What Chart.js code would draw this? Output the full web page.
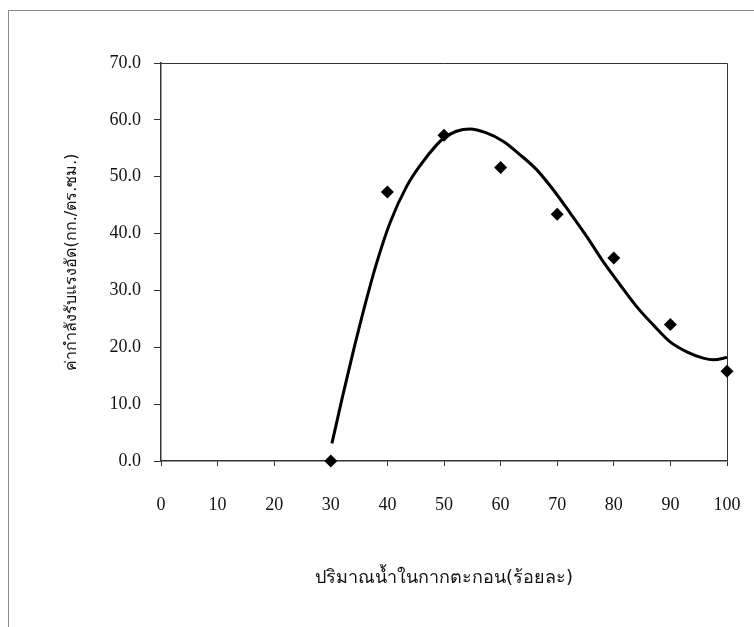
<!DOCTYPE html>
<html>
<head>
<meta charset="utf-8">
<script src="https://cdn.jsdelivr.net/npm/chart.js@4"></script>
<style>
  body { margin: 0; background: #fff; }
  #wrap { position: relative; width: 754px; height: 627px; }
  #frame { position: absolute; left: 8px; top: 10px; right: 0; bottom: 0; border-top: 1px solid #8a8a8a; border-left: 1px solid #8a8a8a; pointer-events: none; }
</style>
</head>
<body>
<div id="wrap">
  <canvas id="chartGrafico" width="754" height="627"></canvas>
  <div id="frame"></div>
</div>
<script>
// pontos medidos (diamantes)
const pontosX = [30, 40, 50, 60, 70, 80, 90, 100];
const pontosY = [0.0, 47.3, 57.3, 51.6, 43.4, 35.7, 24.0, 15.8];

// linha de tendência
const curvaX = [30.2, 32.0, 34.0, 36.0, 38.0, 40.5, 43.4, 45.8, 48.7, 50.0, 52.2, 54.6, 57.5, 60.5, 63.4, 66.4, 69.3, 72.3, 75.2, 78.1, 81.1, 84.0, 87.0, 89.9, 92.9, 95.8, 97.6, 100];
const curvaY = [3.1, 11.0, 19.4, 27.3, 34.5, 42.0, 48.3, 52.0, 55.6, 56.8, 58.0, 58.4, 57.7, 56.2, 53.9, 51.2, 47.7, 43.6, 39.5, 35.1, 31.0, 27.2, 23.9, 21.0, 19.2, 18.1, 17.8, 18.2];

const tituloX = 'ปริมาณน้ำในกากตะกอน(ร้อยละ)';
const tituloY = 'ค่ากำลังรับแรงอัด(กก./ตร.ซม.)';

const fonteNum = { family: '"Liberation Serif", "DejaVu Serif", serif', size: 18 };
const fonteTituloX = { family: '"DejaVu Sans", "Noto Sans", sans-serif', size: 18 };
const fonteTituloY = { family: '"DejaVu Sans", "Noto Sans", sans-serif', size: 16 };

// borda da área do gráfico (topo e direita)
const bordaArea = {
  id: 'bordaArea',
  beforeDatasetsDraw(chart) {
    const { ctx, chartArea: a } = chart;
    ctx.save();
    ctx.strokeStyle = '#333';
    ctx.lineWidth = 1;
    ctx.beginPath();
    ctx.moveTo(a.left, a.top + 0.5);
    ctx.lineTo(a.right + 0.5, a.top + 0.5);
    ctx.lineTo(a.right + 0.5, a.bottom);
    ctx.stroke();
    ctx.restore();
  }
};

const ctx = document.getElementById('chartGrafico');
new Chart(ctx, {
  type: 'scatter',
  data: {
    datasets: [
      {
        data: curvaX.map((x, i) => ({ x, y: curvaY[i] })),
        showLine: true,
        borderColor: '#000',
        borderWidth: 3,
        cubicInterpolationMode: 'monotone',
        pointRadius: 0,
        order: 2
      },
      {
        data: pontosX.map((x, i) => ({ x, y: pontosY[i] })),
        pointStyle: 'rectRot',
        pointRadius: 6.5,
        backgroundColor: '#000',
        borderColor: '#000',
        borderWidth: 0,
        clip: false,
        order: 1
      }
    ]
  },
  options: {
    responsive: false,
    animation: false,
    layout: { autoPadding: false, padding: { top: 63, right: 27, left: 0, bottom: 0 } },
    plugins: { legend: { display: false }, tooltip: { enabled: false } },
    scales: {
      x: {
        type: 'linear',
        min: 0,
        max: 100,
        afterFit: (s) => { s.height = 166; s.paddingLeft = 0; s.paddingRight = 0; },
        ticks: { stepSize: 10, color: '#111', font: fonteNum, padding: 28, maxRotation: 0 },
        grid: { drawOnChartArea: false, tickLength: 5, color: '#333' },
        border: { color: '#333', width: 1.5 },
        title: { display: true, text: tituloX, color: '#111', font: fonteTituloX, padding: { top: 0, bottom: 38 } }
      },
      y: {
        min: 0,
        max: 70,
        afterFit: (s) => { s.width = 161; s.paddingTop = 0; s.paddingBottom = 0; },
        ticks: { stepSize: 10, color: '#111', font: fonteNum, padding: 13, callback: (v) => Number(v).toFixed(1) },
        grid: { drawOnChartArea: false, tickLength: 7, color: '#333' },
        border: { color: '#333', width: 1.5 },
        title: { display: true, text: tituloY, color: '#111', font: fonteTituloY, padding: { top: 62, bottom: 0 } }
      }
    }
  },
  plugins: [bordaArea]
});
</script>
</body>
</html>
